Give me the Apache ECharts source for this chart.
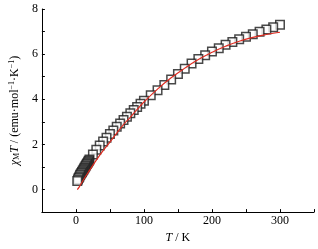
<!DOCTYPE html>
<html>
<head>
<meta charset="utf-8">
<script src="https://cdn.jsdelivr.net/npm/echarts@6/dist/echarts.min.js"></script>
<style>html,body{margin:0;padding:0;background:#fff;}#c{width:318px;height:249px;}</style>
</head>
<body>
<div id="c"></div>
<script>
// Experimental chi_M*T data (squares)
var expT = [2,3,4,5,6,7,8,9,10,11,12,13,14,15,16,17,18,19,20,25,30,35,40,45,50,55,60,65,70,75,80,85,90,95,100,110,120,130,140,150,160,170,180,190,200,210,220,230,240,250,260,270,280,290,300];
var expChiT = [0.38,0.45,0.51,0.57,0.63,0.68,0.73,0.78,0.83,0.88,0.93,0.98,1.03,1.08,1.13,1.18,1.23,1.28,1.33,1.55,1.76,1.95,2.13,2.3,2.46,2.62,2.78,2.93,3.08,3.23,3.38,3.52,3.66,3.8,3.93,4.18,4.4,4.63,4.88,5.12,5.35,5.58,5.78,5.95,6.12,6.26,6.42,6.54,6.66,6.77,6.88,6.99,7.09,7.19,7.3];
// Fitted curve (red line)
var fitT = [2,5,10,20,30,40,50,60,70,80,90,100,120,140,160,180,200,220,240,260,280,300];
var fitChiT = [0.0,0.12,0.38,0.85,1.3,1.72,2.1,2.5,2.88,3.2,3.55,3.88,4.45,4.95,5.38,5.76,6.08,6.35,6.57,6.74,6.87,6.97];
// Tick labels
var xTickLabels = [0,100,200,300];
var yTickLabels = [0,2,4,6,8];

var expData = expT.map(function(t,i){return [t, expChiT[i]];}).reverse();
var fitData = fitT.map(function(t,i){return [t, fitChiT[i]];});

var font = 'Liberation Serif';
var chart = echarts.init(document.getElementById('c'), null, {renderer:'canvas'});
chart.setOption({
  animation:false,
  backgroundColor:'#fff',
  grid:{left:39, right:4, top:9, bottom:29, containLabel:false},
  xAxis:{
    type:'value', min:-50, max:350, interval:50,
    axisLine:{show:true, onZero:false, lineStyle:{color:'#000', width:1}},
    axisTick:{show:true, inside:true, length:3, lineStyle:{color:'#000'}},
    splitLine:{show:false},
    axisLabel:{margin:3, fontFamily:font, fontSize:12, color:'#000',
      formatter:function(v){return xTickLabels.indexOf(v)>=0 ? String(v) : '';}},
    name:'{i|T} / K', nameLocation:'middle', nameGap:15,
    nameTextStyle:{fontFamily:font, fontSize:12, color:'#000',
      rich:{i:{fontFamily:font, fontSize:12, fontStyle:'italic', color:'#000'}}}
  },
  yAxis:{
    type:'value', min:-1, max:8, interval:1,
    axisLine:{show:true, onZero:false, lineStyle:{color:'#000', width:1}},
    axisTick:{show:true, inside:true, length:3, lineStyle:{color:'#000'}},
    splitLine:{show:false},
    axisLabel:{margin:4, fontFamily:font, fontSize:12, color:'#000',
      formatter:function(v){return yTickLabels.indexOf(v)>=0 ? String(v) : '';}},
    name:'{i|χ}{s|M}{i|T} / (emu·mol{p|−1}·K{p|−1})', nameLocation:'middle', nameGap:20, nameRotate:90,
    nameTextStyle:{fontFamily:font, fontSize:12, color:'#000',
      rich:{i:{fontFamily:font, fontSize:12, fontStyle:'italic', color:'#000'},
            s:{fontFamily:font, fontSize:8, color:'#000', verticalAlign:'bottom', padding:[5,0,0,0]},
            p:{fontFamily:font, fontSize:8, color:'#000', verticalAlign:'top', padding:[0,0,5,0]}}}
  },
  series:[
    {type:'scatter', data:expData, symbol:'rect', symbolSize:8.5,
     itemStyle:{color:'#fff', borderColor:'#1a1a1a', borderWidth:1.5}, z:2},
    {type:'line', data:fitData, smooth:true, showSymbol:false,
     lineStyle:{color:'#e02b20', width:1.2}, z:3}
  ]
});
</script>
</body>
</html>
